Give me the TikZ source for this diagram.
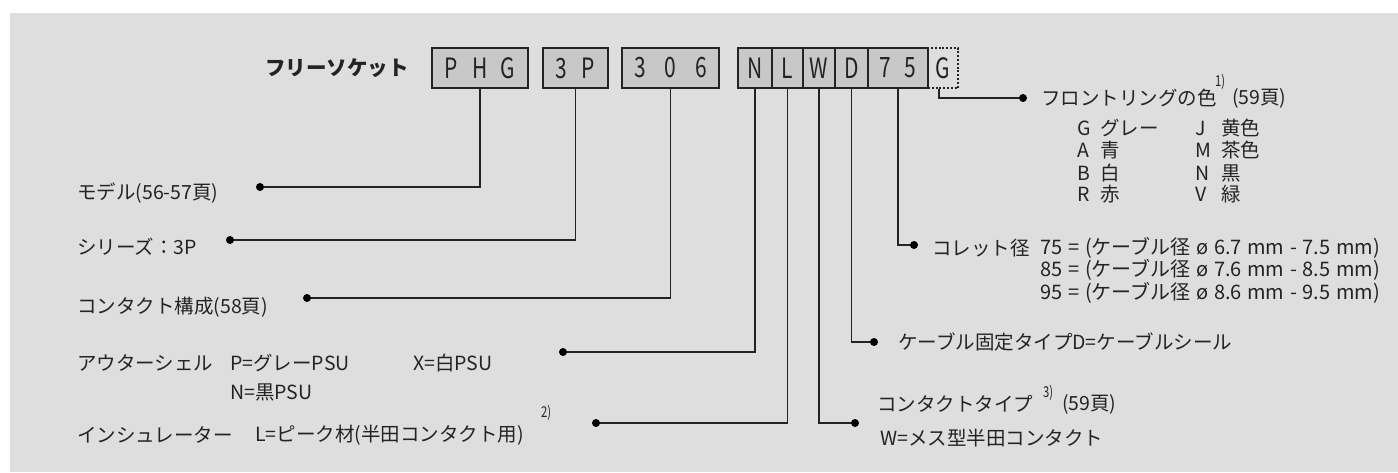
\documentclass[tikz,border=0pt]{standalone}
\usepackage{graphicx}
\usepackage{fontspec}
\setmainfont{Noto Sans CJK JP}
\definecolor{bg}{HTML}{DEDEDE}
\definecolor{boxfill}{HTML}{C8C8C8}
\definecolor{ink}{HTML}{232323}
\newcommand{\gapp}{\hspace{5.6pt}}
\newcommand{\cnd}[1]{\scalebox{0.75}[1]{#1}}
\begin{document}
\begin{tikzpicture}[x=1pt,y=-1pt,
  lbl/.style={anchor=west,inner sep=0pt,text=ink,font=\fontsize{19.5}{22}\selectfont},
  widelbl/.style={anchor=east,inner sep=0pt,text=ink,font=\fontsize{20}{22}\selectfont},
  supnote/.style={anchor=west,inner sep=0pt,text=ink,font=\fontsize{15}{15}\selectfont},
  title/.style={anchor=west,inner sep=0pt,text=ink,font=\fontsize{20.5}{22}\selectfont\bfseries},
  segbox/.style={draw=ink,fill=boxfill,line width=1.3pt,minimum height=40pt,inner sep=0pt,
     text=ink,font=\fontsize{28}{28}\selectfont},
  ringbox/.style={draw=ink,dash pattern=on 2pt off 1.8pt,line width=1.3pt,minimum height=40pt,inner sep=0pt,
     text=ink,font=\fontsize{28}{28}\selectfont},
  conn/.style={draw=ink,line width=1.3pt},
  dotmark/.style={fill=black}
]
\useasboundingbox (0,0) rectangle (1398,472);
\fill[white] (0,0) rectangle (1398,472);
\fill[bg] (10,13) rectangle (1398,472);

% title
\node[title] (ttl) at (265,68) {フリーソケット};

% code boxes
\node[segbox,minimum width=96pt] (phg) at (480,68) {\cnd{P\hspace{20pt}H\hspace{17pt}G}};
\node[segbox,minimum width=65pt] (tp) at (575.5,68) {\cnd{3\hspace{19pt}P}};
\node[segbox,minimum width=97pt] (cc) at (670.5,68) {\cnd{3\hspace{25pt}0\hspace{25pt}6}};
\node[segbox,minimum width=34pt] (sn) at (755,68) {\cnd{N}};
\node[segbox,minimum width=31pt] (sl) at (787.5,68) {\cnd{L}};
\node[segbox,minimum width=32pt] (sw) at (819,68) {\cnd{W}};
\node[segbox,minimum width=33pt] (sd) at (851.5,68) {\cnd{D}};
\node[segbox,minimum width=60pt] (sc) at (898,68) {\cnd{7\hspace{18pt}5}};
\node[ringbox,minimum width=30pt] (sg) at (943,68) {\cnd{G}};

% dot coordinates
\coordinate (dmod) at (260,187);
\coordinate (dser) at (230,240);
\coordinate (dcon) at (307,298);
\coordinate (dout) at (563,352);
\coordinate (dins) at (596,423);
\coordinate (dct) at (855,423);
\coordinate (dcab) at (874,342);
\coordinate (dcol) at (914,245);
\coordinate (dring) at (1023,98);

% connectors
\draw[conn] (phg.south) |- (dmod);
\draw[conn] (tp.south) |- (dser);
\draw[conn] (cc.south) |- (dcon);
\draw[conn] (sn.south) |- (dout);
\draw[conn] (sl.south) |- (dins);
\draw[conn] (sw.south) |- (dct);
\draw[conn] (sd.south) |- (dcab);
\draw[conn] (sc.south) |- (dcol);
\draw[conn] ([xshift=-4pt]sg.south) |- (dring);

\foreach \d in {dmod,dser,dcon,dout,dins,dct,dcab,dcol,dring}
  \fill[dotmark] (\d) circle (4pt);

% left labels
\node[lbl] (lmod) at (77,193) {モデル(56-57頁)};
\node[lbl] (lser) at (77,247) {シリーズ：3P};
\node[lbl] (lcon) at (77,307) {コンタクト構成(58頁)};
\node[lbl] (lout) at (77,363) {アウターシェル};
\node[lbl] (loutp) at (230,363) {P=グレーPSU};
\node[lbl] (loutx) at (413,363) {X=白PSU};
\node[lbl] (loutn) at (230,392) {N=黒PSU};
\node[lbl] (lins) at (77,435) {インシュレーター};
\node[lbl] (linsl) at (255,435) {L=ピーク材(半田コンタクト用)};
\node[supnote] (n2) at (541,413) {\cnd{2)}};

% right labels
\node[lbl] (lcab) at (898,342) {ケーブル固定タイプD=ケーブルシール};
\node[lbl] (lct) at (877,404) {コンタクトタイプ};
\node[supnote] (n3) at (1043,393) {\cnd{3)}};
\node[lbl] (lctp) at (1062,404) {(59頁)};
\node[lbl] (lctw) at (880,438) {W=メス型半田コンタクト};

\node[lbl] (lring) at (1041,98) {フロントリングの色};
\node[supnote] (n1) at (1215,82) {\cnd{1)}};
\node[lbl] (lringp) at (1232,98) {(59頁)};

\node[lbl] (cg1) at (1077,128) {G};  \node[lbl] (cg2) at (1100,128) {グレー};
\node[lbl] (ca1) at (1077,150) {A};  \node[lbl] (ca2) at (1100,150) {青};
\node[lbl] (cb1) at (1077,173) {B};  \node[lbl] (cb2) at (1100,173) {白};
\node[lbl] (cr1) at (1077,194) {R};  \node[lbl] (cr2) at (1100,194) {赤};
\node[lbl] (cj1) at (1195,128) {J};  \node[lbl] (cj2) at (1221,128) {黄色};
\node[lbl] (cm1) at (1195,150) {M};  \node[lbl] (cm2) at (1221,150) {茶色};
\node[lbl] (cn1) at (1195,173) {N};  \node[lbl] (cn2) at (1221,173) {黒};
\node[lbl] (cv1) at (1195,194) {V};  \node[lbl] (cv2) at (1221,194) {緑};

\node[lbl] (lcol) at (932,248) {コレット径};
\node[widelbl] (col1) at (1380,248) {75\gapp=\gapp(ケーブル径\gapp ø\gapp 6.7\gapp mm\gapp -\gapp 7.5\gapp mm)};
\node[widelbl] (col2) at (1380,270) {85\gapp=\gapp(ケーブル径\gapp ø\gapp 7.6\gapp mm\gapp -\gapp 8.5\gapp mm)};
\node[widelbl] (col3) at (1380,293) {95\gapp=\gapp(ケーブル径\gapp ø\gapp 8.6\gapp mm\gapp -\gapp 9.5\gapp mm)};
\end{tikzpicture}
\end{document}
